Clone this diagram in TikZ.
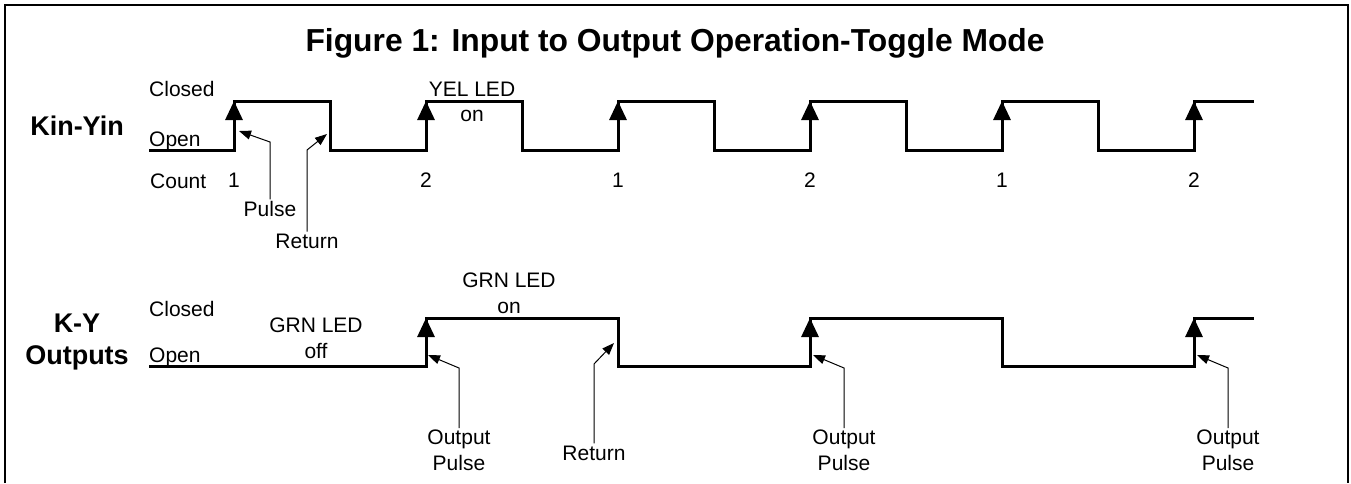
\documentclass[tikz,border=0pt]{standalone}
\usepackage{fontspec}
\setmainfont{Liberation Sans}
\usetikzlibrary{arrows.meta}

\begin{document}
\begin{tikzpicture}[
    x=1pt, y=-1pt,
    lbl/.style={inner sep=0pt, font=\fontsize{21}{25.7}\selectfont},
    twoline/.style={lbl, align=center},
    sig/.style={inner sep=0pt, align=center, font=\fontsize{27}{32}\selectfont\bfseries},
    wave/.style={line width=3pt, line join=miter},
    rise/.style={line width=3pt, -{Triangle[length=19pt, width=17pt]}},
    note/.style={line width=1pt, shorten <=2pt, -{Triangle[length=12pt, width=9pt]}},
]
\useasboundingbox (0,0) rectangle (1351,483);

% Frame and title
\draw[line width=2.5pt] (5,483) -- (5,5) -- (1348,5) -- (1348,483);
\node[inner sep=0pt, anchor=base, font=\fontsize{31.8}{36}\selectfont\bfseries] (title) at (675,51)
    {Figure 1: Input to Output Operation-Toggle Mode};

% Kin-Yin input
\node[sig, anchor=base] (kinyin) at (77,135) {Kin-Yin};
\node[lbl, anchor=base west] (kclosed) at (149,96.5) {Closed};
\node[lbl, anchor=base west] (kopen) at (149,146) {Open};
\node[lbl, anchor=base west] (count) at (150,188) {Count};
\draw[wave] (149,150)
    \foreach \x in {234,426,618,810,1002} {-- (\x,150) -- (\x,101) -- (\x+96,101) -- (\x+96,150)}
    -- (1194,150) -- (1194,101) -- (1254,101);
\foreach \x/\n [count=\i] in {234/1,426/2,618/1,810/2,1002/1,1194/2} {
    \draw[rise] (\x,150) -- (\x,101);
    \node[lbl, anchor=base] (cnt\i) at (\x,187) {\n};
}
\node[twoline] (yelled) at (472,102) {YEL LED\\on};

% Kin-Yin notes
\node[lbl, anchor=base] (pulse) at (270,216.7) {Pulse};
\node[lbl, anchor=base] (kreturn) at (307,248.3) {Return};
\coordinate (pulsebend) at (270,142);
\coordinate (pulsetip) at (239,131);
\coordinate (kretbend) at (307,150);
\coordinate (krettip) at (327,134);
\draw[note] (pulse) -- (pulsebend) -- (pulsetip);
\draw[note] (kreturn) -- (kretbend) -- (krettip);

% K-Y outputs
\node[sig] (kyout) at (77,342) {K-Y\\Outputs};
\node[lbl, anchor=base west] (oclosed) at (149,316.5) {Closed};
\node[lbl, anchor=base west] (oopen) at (149,362) {Open};
\draw[wave] (149,366) -- (426,366) -- (426,318) -- (618,318) -- (618,366)
    -- (810,366) -- (810,318) -- (1002,318) -- (1002,366)
    -- (1194,366) -- (1194,318) -- (1254,318);
\foreach \x in {426,810,1194}
    \draw[rise] (\x,366) -- (\x,318);
\node[twoline] (grnoff) at (316,338) {GRN LED\\off};
\node[twoline] (grnon) at (509,293) {GRN LED\\on};

% Output notes
\node[twoline] (opulse1) at (459,450.5) {Output\\Pulse};
\node[twoline] (opulse2) at (844,450.5) {Output\\Pulse};
\node[twoline] (opulse3) at (1228,450.5) {Output\\Pulse};
\node[lbl, anchor=base] (oreturn) at (594,460) {Return};
\coordinate (op1bend) at (459,368);
\coordinate (op1tip) at (428,355);
\coordinate (op2bend) at (844,368);
\coordinate (op2tip) at (813,355);
\coordinate (op3bend) at (1228,368);
\coordinate (op3tip) at (1197,355);
\coordinate (oretbend) at (594,364);
\coordinate (orettip) at (614,343);
\draw[note] (opulse1) -- (op1bend) -- (op1tip);
\draw[note] (opulse2) -- (op2bend) -- (op2tip);
\draw[note] (opulse3) -- (op3bend) -- (op3tip);
\draw[note] (oreturn) -- (oretbend) -- (orettip);
\end{tikzpicture}
\end{document}
